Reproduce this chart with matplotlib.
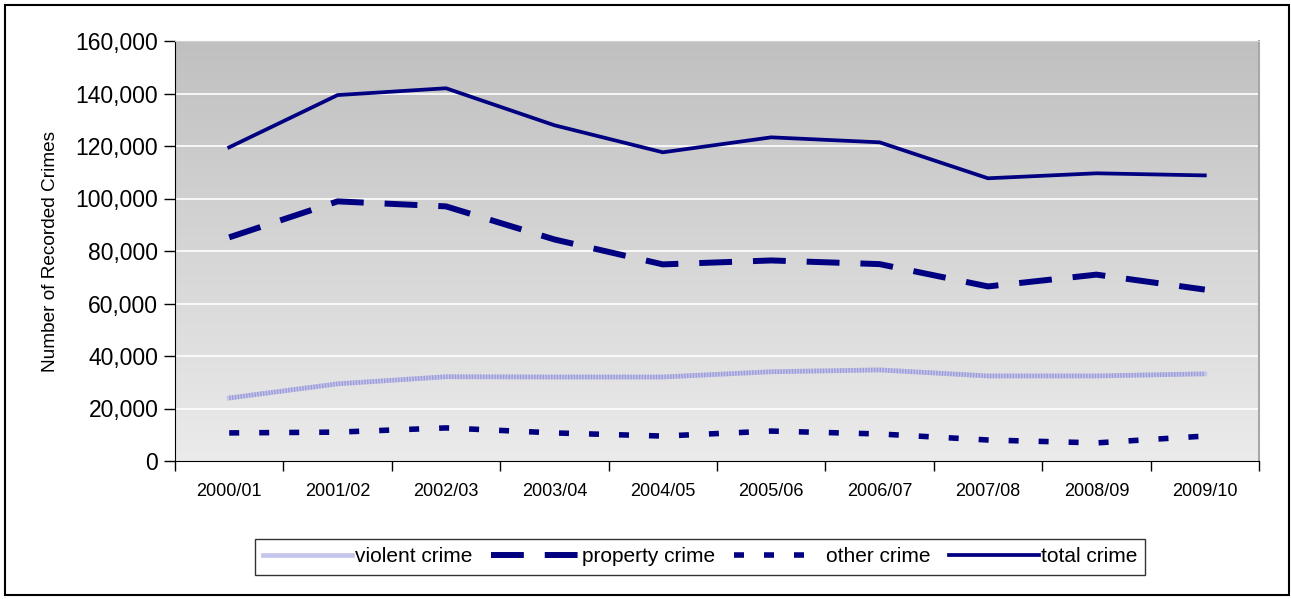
import numpy as np
import matplotlib
matplotlib.use("Agg")
import matplotlib.pyplot as plt
from matplotlib.ticker import FuncFormatter, FixedLocator
from matplotlib.patches import Rectangle

plt.rcParams['font.family'] = ['Liberation Sans', 'DejaVu Sans']

# data
years = ["2000/01", "2001/02", "2002/03", "2003/04", "2004/05",
         "2005/06", "2006/07", "2007/08", "2008/09", "2009/10"]
violent = [24000, 29400, 32100, 32000, 32000, 34000, 34700, 32400, 32400, 33200]
property_ = [85200, 98900, 97000, 84400, 74900, 76400, 75000, 66500, 71000, 65300]
other = [10700, 11000, 12600, 10700, 9500, 11400, 10300, 8000, 6900, 9500]
total = [119500, 139400, 142000, 127900, 117600, 123300, 121400, 107700, 109600, 108800]

navy = "#000080"

fig = plt.figure(figsize=(12.91, 5.99), dpi=100)
ax = fig.add_axes([175 / 1291, 1 - 461 / 599, (1259 - 175) / 1291, (461 - 41) / 599])

# gradient background of plot area
grad = np.linspace(0, 1, 256).reshape(-1, 1)
cmap = matplotlib.colors.LinearSegmentedColormap.from_list("g", ["#c0c0c0", "#ebebeb"])
ax.imshow(grad, aspect="auto", cmap=cmap, extent=[0, 1, 0, 1],
          transform=ax.transAxes, zorder=0)

x = np.arange(len(years))
ax.set_xlim(-0.5, len(years) - 0.5)
ax.set_ylim(0, 160000)

for yv in range(20000, 160001, 20000):
    ax.axhline(yv, color="white", lw=1.2, zorder=1)

# violent crime: light striped line (base + fine dash overlay)
ax.plot(x, violent, color="#c6c6ec", lw=3.4, zorder=3, label="violent crime")
ax.plot(x, violent, color="#9c9cd6", lw=3.4, dashes=(0.3, 0.3), dash_capstyle="butt", zorder=3)
ax.plot(x, property_, color=navy, lw=4.3, dashes=(5.5, 3.5), zorder=3, label="property crime")
ax.plot(x, other, color=navy, lw=4.0, dashes=(1.8, 3.6), zorder=3, label="other crime")
ax.plot(x, total, color=navy, lw=2.7, zorder=4, label="total crime")

ax.yaxis.set_major_locator(FixedLocator(range(0, 160001, 20000)))
ax.yaxis.set_major_formatter(FuncFormatter(lambda v, p: f"{int(v):,}"))
ax.set_xticks(x)
ax.set_xticklabels(years, fontsize=13)
ax.xaxis.set_minor_locator(FixedLocator(np.arange(-0.5, len(years), 1.0)))
ax.tick_params(axis="x", which="major", length=0, pad=16)
ax.tick_params(axis="x", which="minor", length=7, width=1, direction="out")
ax.tick_params(axis="y", length=8, width=1, direction="out", labelsize=16.5, pad=4)

ax.spines["left"].set_color("black")
ax.spines["bottom"].set_color("black")
ax.spines["top"].set_color("#d0d0d0")
ax.spines["right"].set_color("#a8a8a8")
ax.spines["right"].set_linewidth(1.5)

ax.set_ylabel("Number of Recorded Crimes", fontsize=13.7, labelpad=12)

leg = fig.legend(loc="center", bbox_to_anchor=(700 / 1291, 1 - 557 / 599), ncol=4,
                 fontsize=15, handlelength=4.3, handletextpad=0.1, columnspacing=0.9,
                 frameon=True, fancybox=False, borderpad=0.4)
leg.get_frame().set_edgecolor("black")
leg.get_frame().set_linewidth(1)

# outer border
fig.patches.append(Rectangle((5 / 1291, 4 / 599), 1284 / 1291, 590 / 599, transform=fig.transFigure,
                             fill=False, edgecolor="black", lw=1.5))

fig.savefig("out.png", dpi=100)
